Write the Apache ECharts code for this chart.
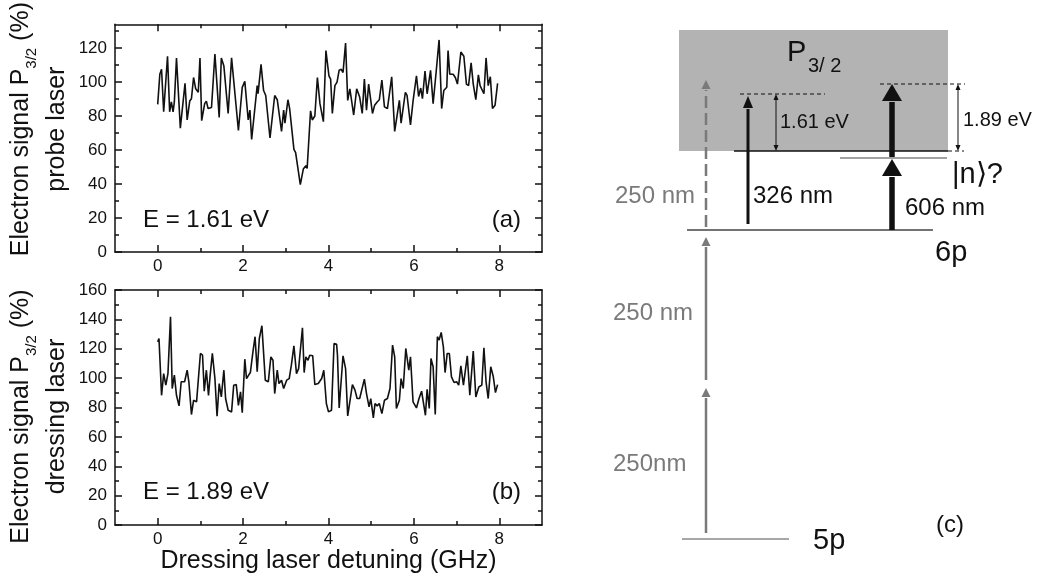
<!DOCTYPE html>
<html>
<head>
<meta charset="utf-8">
<title>Electron signal vs dressing laser detuning</title>
<script src="https://cdn.jsdelivr.net/npm/echarts@6.0.0/dist/echarts.min.js"></script>
<style>
  html, body { margin: 0; padding: 0; background: #fff; }
  #chart { width: 1038px; height: 581px; }
</style>
</head>
<body>
<div id="chart"></div>
<script>
// Probe-laser scan, E = 1.61 eV: [detuning (GHz), electron signal P3/2 (%)]
const probeScan = [
  [0.00,86.9],[0.05,104.6],[0.09,107.5],[0.14,82.5],[0.23,115.2],[0.28,82.5],[0.32,88.3],[0.36,82.5],
  [0.39,88.3],[0.44,114.2],[0.53,72.9],[0.64,99.2],[0.69,77.7],[0.75,88.8],[0.79,90.2],[0.84,102.7],
  [0.89,96.0],[0.95,94.0],[0.99,114.2],[1.03,77.3],[1.10,87.3],[1.14,88.8],[1.18,84.4],[1.26,85.0],
  [1.30,85.4],[1.34,116.5],[1.44,79.2],[1.49,114.2],[1.55,109.4],[1.59,109.4],[1.65,81.5],[1.73,114.2],
  [1.89,71.5],[1.98,96.9],[2.04,100.4],[2.12,77.7],[2.16,83.5],[2.20,66.2],[2.33,97.9],[2.35,93.1],
  [2.42,110.4],[2.48,95.0],[2.53,92.1],[2.63,67.1],[2.74,92.1],[2.80,89.6],[2.90,71.0],[2.95,83.5],
  [2.98,75.8],[3.05,89.6],[3.09,84.4],[3.19,60.4],[3.23,58.5],[3.34,39.6],[3.41,48.8],[3.47,50.8],
  [3.50,49.2],[3.58,83.1],[3.62,77.7],[3.68,80.0],[3.74,102.7],[3.80,87.3],[3.84,88.3],[3.88,76.7],
  [3.94,118.5],[4.01,103.7],[4.05,101.7],[4.09,81.5],[4.15,97.9],[4.20,100.0],[4.25,107.0],[4.30,107.5],
  [4.34,105.6],[4.40,122.9],[4.45,89.2],[4.50,96.0],[4.54,89.2],[4.59,80.6],[4.66,96.0],[4.70,95.0],
  [4.73,91.2],[4.79,81.5],[4.84,101.7],[4.89,83.5],[4.94,98.8],[4.98,97.9],[5.03,81.5],[5.08,86.3],
  [5.14,88.3],[5.19,89.6],[5.25,101.2],[5.31,85.4],[5.38,84.4],[5.48,103.1],[5.55,71.0],[5.59,71.9],
  [5.66,89.2],[5.70,75.8],[5.80,94.0],[5.84,92.1],[5.92,74.8],[5.98,88.8],[6.02,87.7],[6.06,103.7],
  [6.11,91.5],[6.16,96.5],[6.20,90.2],[6.26,106.5],[6.31,93.1],[6.39,106.9],[6.45,87.3],[6.52,105.6],
  [6.59,124.8],[6.65,84.4],[6.70,95.0],[6.77,96.9],[6.80,118.5],[6.84,104.6],[6.92,104.6],[6.97,102.7],
  [7.02,98.8],[7.10,117.7],[7.17,115.2],[7.23,98.8],[7.28,97.9],[7.34,111.3],[7.39,98.8],[7.45,89.6],
  [7.51,104.2],[7.55,97.9],[7.59,97.3],[7.64,93.1],[7.69,114.2],[7.74,97.9],[7.79,103.1],[7.84,84.4],
  [7.90,86.3],[7.96,99.2]
];

// Dressing-laser scan, E = 1.89 eV: [detuning (GHz), electron signal P3/2 (%)]
const dressingScan = [
  [0.00,124.7],[0.03,127.0],[0.09,88.3],[0.14,103.1],[0.19,95.2],[0.24,103.1],[0.30,141.8],[0.34,92.9],
  [0.39,102.0],[0.44,88.3],[0.50,81.1],[0.55,97.5],[0.59,96.3],[0.63,97.5],[0.69,105.4],[0.73,97.5],
  [0.79,75.2],[0.84,84.9],[0.91,83.8],[0.95,82.7],[1.00,116.8],[1.05,115.6],[1.09,91.1],[1.14,105.4],
  [1.19,88.3],[1.23,102.4],[1.28,116.8],[1.34,99.7],[1.39,74.0],[1.44,96.3],[1.49,87.2],[1.55,105.4],
  [1.59,86.1],[1.65,78.1],[1.73,77.0],[1.78,95.2],[1.84,95.6],[1.89,81.5],[1.94,90.6],[1.98,76.5],
  [2.04,112.9],[2.08,99.7],[2.13,102.0],[2.17,103.8],[2.23,117.9],[2.28,128.2],[2.33,104.3],[2.38,127.0],
  [2.44,135.7],[2.52,98.6],[2.59,97.5],[2.65,114.5],[2.70,112.2],[2.74,89.5],[2.80,105.4],[2.84,96.3],
  [2.90,98.6],[2.95,92.9],[3.02,98.6],[3.08,99.7],[3.13,108.8],[3.19,122.0],[3.25,103.1],[3.30,106.5],
  [3.39,134.3],[3.43,103.8],[3.47,114.5],[3.52,112.2],[3.56,115.6],[3.63,115.2],[3.68,95.6],[3.76,96.3],
  [3.84,99.7],[3.89,105.4],[3.95,82.7],[4.00,77.0],[4.07,78.1],[4.13,123.6],[4.19,123.0],[4.21,115.6],
  [4.25,79.7],[4.34,115.2],[4.40,106.5],[4.45,74.3],[4.56,95.6],[4.62,91.8],[4.67,86.1],[4.73,86.1],
  [4.84,99.3],[4.89,89.5],[4.95,80.4],[4.99,86.1],[5.05,72.9],[5.09,82.7],[5.14,81.1],[5.19,82.7],
  [5.25,75.8],[5.31,84.9],[5.38,86.1],[5.44,92.9],[5.50,122.5],[5.55,114.5],[5.59,79.3],[5.66,84.9],
  [5.70,99.7],[5.75,92.9],[5.81,120.2],[5.88,105.4],[5.92,114.5],[5.98,83.8],[6.06,79.7],[6.12,86.1],
  [6.18,91.1],[6.22,90.6],[6.27,74.7],[6.31,92.4],[6.36,79.3],[6.40,113.4],[6.45,107.7],[6.50,75.2],
  [6.55,128.2],[6.59,125.9],[6.64,131.1],[6.69,121.3],[6.73,103.8],[6.78,116.8],[6.83,116.8],[6.88,100.9],
  [6.94,97.0],[7.00,97.5],[7.05,95.2],[7.10,108.4],[7.16,95.2],[7.20,96.3],[7.25,115.2],[7.31,88.3],
  [7.39,118.4],[7.45,87.2],[7.52,94.0],[7.59,95.2],[7.64,120.7],[7.69,97.5],[7.74,86.1],[7.80,107.7],
  [7.86,100.9],[7.91,90.2],[7.96,95.6]
];

// Axis ticks
const detuningTicks = [0, 2, 4, 6, 8];
const detuningMinorTicks = [1, 3, 5, 7];
const probeTicks = [0, 20, 40, 60, 80, 100, 120];
const probeMinorTicks = [10, 30, 50, 70, 90, 110, 130];
const dressingTicks = [0, 20, 40, 60, 80, 100, 120, 140, 160];
const dressingMinorTicks = [10, 30, 50, 70, 90, 110, 130, 150];

// Texts
const panelTags = ['(a)', '(b)', '(c)'];
const photonEnergies = ['E = 1.61 eV', 'E = 1.89 eV'];
const detuningTitle = 'Dressing laser detuning (GHz)';
const signalTitles = ['probe laser', 'dressing laser'];
const transitionLabels = ['250 nm', '250 nm', '250nm', '326 nm', '606 nm'];
const gapLabels = ['1.61 eV', '1.89 eV'];
const levelLabels = ['5p', '6p', '|n\u27E9?'];

const FONT = '"Liberation Sans", Arial, Helvetica, sans-serif';
const INK = '#111';
const GREY = '#7a7a7a';

// Boxed frame: a major and a minor tick axis on each side, ticks pointing inward
function frameAxes(dim, gridIndex, min, max, major, minor, labelled, extra) {
  const sides = dim === 'x' ? ['bottom', 'top'] : ['left', 'right'];
  const axes = [];
  sides.forEach((position, k) => {
    axes.push(Object.assign({
      type: 'value', gridIndex, min, max, position,
      splitLine: { show: false },
      axisLine: { show: true, onZero: false, lineStyle: { color: INK, width: 1.5 } },
      axisTick: { show: true, inside: true, length: 7, customValues: major, lineStyle: { color: INK, width: 1.5 } },
      axisLabel: (k === 0 && labelled) ? {
        show: true, customValues: major, fontSize: 17, fontFamily: FONT, color: INK, margin: dim === 'x' ? 6 : 8
      } : { show: false }
    }, k === 0 ? (extra || {}) : {}));
    axes.push({
      type: 'value', gridIndex, min, max, position,
      splitLine: { show: false },
      axisLine: { show: false, onZero: false },
      axisTick: { show: true, inside: true, length: 4, customValues: minor, lineStyle: { color: INK, width: 1.5 } },
      axisLabel: { show: false }
    });
  });
  return axes;
}

// Two-line rotated title; shift moves it along the axis (positive = upward)
function signalName(second, shift) {
  return {
    name: '{t|Electron signal P}{s|3/2}{t| (%)}\n{t|' + second + '}',
    nameLocation: 'middle',
    nameRotate: 90,
    nameGap: 40,
    nameTextStyle: {
      color: INK,
      padding: shift > 0 ? [0, 0, 0, 2 * shift] : [0, -2 * shift, 0, 0],
      rich: {
        t: { fontSize: 25, fontFamily: FONT, color: INK, lineHeight: 36 },
        s: { fontSize: 15, fontFamily: FONT, color: INK, lineHeight: 12, verticalAlign: 'bottom' }
      }
    }
  };
}

const xAxes = [].concat(
  frameAxes('x', 0, -1, 9, detuningTicks, detuningMinorTicks, true),
  frameAxes('x', 1, -1, 9, detuningTicks, detuningMinorTicks, true, {
    name: detuningTitle, nameLocation: 'middle', nameGap: 22,
    nameTextStyle: { fontSize: 25, fontFamily: FONT, color: INK }
  }),
  [{ type: 'value', gridIndex: 2, min: 0, max: 458, show: false }]
);
const yAxes = [].concat(
  frameAxes('y', 0, 0, 134, probeTicks, probeMinorTicks, true, signalName(signalTitles[0], 9)),
  frameAxes('y', 1, 0, 160, dressingTicks, dressingMinorTicks, true, signalName(signalTitles[1], -9)),
  [{ type: 'value', gridIndex: 2, min: 0, max: 509, show: false }]
);

// Level scheme of panel (c), drawn on a hidden cartesian frame (5p level at height 0)
function renderScheme(params, api) {
  const P = (x, y) => api.coord([x, y]);
  const out = [];
  const line = (x1, y1, x2, y2, style) => {
    const a = P(x1, y1), b = P(x2, y2);
    out.push({ type: 'line', shape: { x1: a[0], y1: a[1], x2: b[0], y2: b[1] }, style: Object.assign({ fill: null }, style) });
  };
  const head = (tip, dir, w, l, color) => {
    const base = tip[1] - dir * l;
    out.push({ type: 'polygon', shape: { points: [[tip[0], tip[1]], [tip[0] - w / 2, base], [tip[0] + w / 2, base]] }, style: { fill: color } });
    return base;
  };
  const arrow = (x, yFrom, yTo, color, width, w, l, dash) => {
    const a = P(x, yFrom), b = P(x, yTo);
    const base = head(b, -1, w, l, color);
    out.push({ type: 'line', shape: { x1: a[0], y1: a[1], x2: b[0], y2: base + 1 }, style: { stroke: color, lineWidth: width, lineDash: dash || null } });
  };
  const span = (x, yLow, yHigh) => {
    const a = P(x, yLow), b = P(x, yHigh);
    const lo = head(a, 1, 5, 6, INK);
    const hi = head(b, -1, 5, 6, INK);
    out.push({ type: 'line', shape: { x1: a[0], y1: lo, x2: b[0], y2: hi }, style: { stroke: INK, lineWidth: 1 } });
  };
  const text = (x, y, str, size, color, align) => {
    const p = P(x, y);
    out.push({ type: 'text', x: p[0], y: p[1], style: { text: str, fontSize: size, fontFamily: FONT, fill: color, align: align || 'left', verticalAlign: 'middle' } });
  };

  // P3/2 continuum
  const c0 = P(99, 509), c1 = P(368, 388);
  out.push({ type: 'rect', shape: { x: c0[0], y: c0[1], width: c1[0] - c0[0], height: c1[1] - c0[1] }, style: { fill: '#b3b3b3' } });
  text(207, 486, 'P', 29, INK);
  text(228, 473, '3/ 2', 20, INK);

  // levels
  line(102, 0, 209, 0, { stroke: '#8a8a8a', lineWidth: 1.5 });
  line(107, 309, 353, 309, { stroke: '#444', lineWidth: 1.5 });
  line(260, 381, 367, 381, { stroke: '#444', lineWidth: 1 });
  line(154, 388, 368, 388, { stroke: INK, lineWidth: 1.5 });
  line(368, 388, 384, 388, { stroke: INK, lineWidth: 1, lineDash: [4, 3] });
  line(160, 445, 245, 445, { stroke: INK, lineWidth: 1, lineDash: [4, 3] });
  line(300, 455, 385, 455, { stroke: INK, lineWidth: 1, lineDash: [4, 3] });

  // 250 nm photons
  arrow(126, 6, 151, GREY, 2.5, 9, 9);
  arrow(126, 159, 302, GREY, 2.5, 9, 9);
  arrow(126, 312, 459, GREY, 2.5, 9, 9, [12, 5]);
  // 326 nm probe and 606 nm dressing photons
  arrow(168, 315, 443, INK, 3, 10, 12);
  arrow(312, 309, 380, INK, 5.5, 20, 17);
  arrow(312, 382, 455, INK, 5.5, 20, 17);
  // energy gaps above threshold
  span(196, 388, 445);
  span(378, 388, 455);

  text(115, 343, transitionLabels[0], 24, GREY, 'right');
  text(33, 226, transitionLabels[1], 24, GREY);
  text(33, 75, transitionLabels[2], 24, GREY);
  text(173, 343, transitionLabels[3], 24, INK);
  text(325, 331, transitionLabels[4], 24, INK);
  text(200, 417, gapLabels[0], 20, INK);
  text(383, 419, gapLabels[1], 20, INK);
  text(233, -2, levelLabels[0], 29, INK);
  text(355, 286, levelLabels[1], 29, INK);
  text(372, 364, levelLabels[2], 29, INK);
  text(356, 14, panelTags[2], 24, INK);

  return { type: 'group', children: out };
}

const chart = echarts.init(document.getElementById('chart'), null, { renderer: 'canvas' });
chart.setOption({
  animation: false,
  backgroundColor: '#fff',
  grid: [
    { left: 115, top: 18, width: 427, height: 234 },
    { left: 115, top: 290, width: 427, height: 235 },
    { left: 580, top: 30, width: 458, height: 509 }
  ],
  xAxis: xAxes,
  yAxis: yAxes,
  series: [
    {
      type: 'line', xAxisIndex: 0, yAxisIndex: 0, data: probeScan,
      showSymbol: false, symbol: 'none', lineStyle: { color: INK, width: 1.6 }, silent: true
    },
    {
      type: 'line', xAxisIndex: 4, yAxisIndex: 4, data: dressingScan,
      showSymbol: false, symbol: 'none', lineStyle: { color: INK, width: 1.6 }, silent: true
    },
    {
      type: 'custom', xAxisIndex: 8, yAxisIndex: 8, data: [[0, 0]],
      renderItem: renderScheme, clip: false, silent: true
    }
  ],
  graphic: [
    { type: 'text', x: 143, y: 220, style: { text: photonEnergies[0], fontSize: 24, fontFamily: FONT, fill: INK, verticalAlign: 'middle' } },
    { type: 'text', x: 521, y: 220, style: { text: panelTags[0], fontSize: 24, fontFamily: FONT, fill: INK, align: 'right', verticalAlign: 'middle' } },
    { type: 'text', x: 143, y: 492, style: { text: photonEnergies[1], fontSize: 24, fontFamily: FONT, fill: INK, verticalAlign: 'middle' } },
    { type: 'text', x: 521, y: 492, style: { text: panelTags[1], fontSize: 24, fontFamily: FONT, fill: INK, align: 'right', verticalAlign: 'middle' } }
  ]
});
</script>
</body>
</html>
